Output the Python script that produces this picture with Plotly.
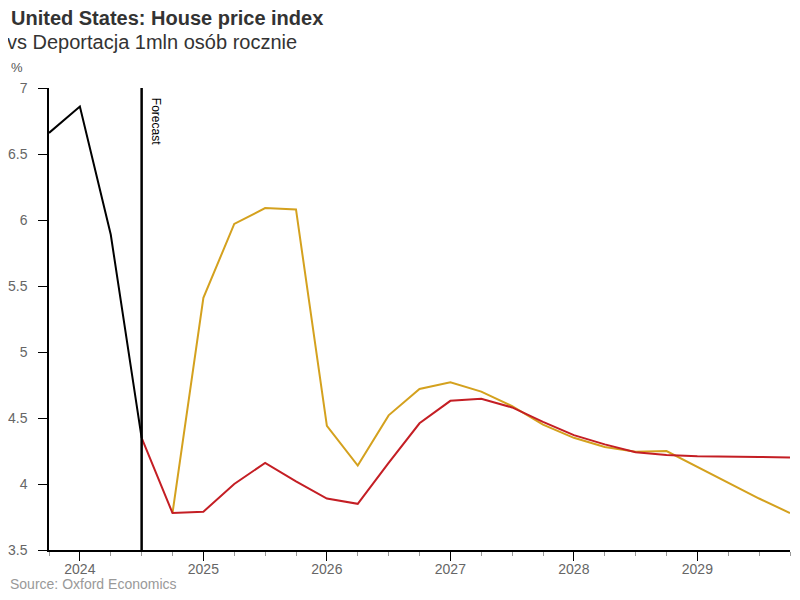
import plotly.graph_objects as go

hist_x = [2023.75, 2024.0, 2024.25, 2024.5]
hist_y = [6.66, 6.86, 5.89, 4.35]

fc_x = [2024.5, 2024.75, 2025.0, 2025.25, 2025.5, 2025.75, 2026.0, 2026.25,
        2026.5, 2026.75, 2027.0, 2027.25, 2027.5, 2027.75, 2028.0, 2028.25,
        2028.5, 2028.75, 2029.0, 2029.25, 2029.5, 2029.75]
base_y = [4.35, 3.78, 3.79, 4.00, 4.16, 4.02, 3.89, 3.85,
          4.16, 4.46, 4.63, 4.646, 4.58, 4.47, 4.37, 4.30,
          4.24, 4.22, 4.21, 4.21, 4.205, 4.20]

dep_x = fc_x[1:]
dep_y = [3.78, 5.41, 5.97, 6.09, 6.08, 4.44, 4.14,
         4.52, 4.72, 4.77, 4.70, 4.59, 4.45, 4.35, 4.28,
         4.245, 4.25, 4.13, 4.005, 3.89, 3.78]

year_ticks = [2024, 2025, 2026, 2027, 2028, 2029]
year_labels = ["2024", "2025", "2026", "2027", "2028", "2029"]
y_ticks = [3.5, 4, 4.5, 5, 5.5, 6, 6.5, 7]
y_labels = ["3.5", "4", "4.5", "5", "5.5", "6", "6.5", "7"]

forecast_x = 2024.5

GOLD = "#D4A11E"
RED = "#C41E24"
FONT = "Liberation Sans, Arial, sans-serif"

W, H = 792, 592
ML, MR, MT, MB = 41, 10, 80, 50
PW, PH = W - ML - MR, H - MT - MB

fig = go.Figure()
fig.add_trace(go.Scatter(x=dep_x, y=dep_y, mode="lines",
                         line=dict(color=GOLD, width=2), hoverinfo="skip"))
fig.add_trace(go.Scatter(x=fc_x, y=base_y, mode="lines",
                         line=dict(color=RED, width=2), hoverinfo="skip"))
fig.add_trace(go.Scatter(x=hist_x, y=hist_y, mode="lines",
                         line=dict(color="#000000", width=2), hoverinfo="skip"))

fig.add_shape(type="line", xref="x", yref="paper", x0=forecast_x, x1=forecast_x,
              y0=0, y1=1, line=dict(color="#000000", width=2.5))


def px_x(p):
    return (p - 8 - ML) / PW


def px_y(p):
    return 1 - (p - 8 - MT) / PH


fig.update_layout(
    width=W, height=H,
    margin=dict(l=ML, r=MR, t=MT, b=MB, autoexpand=False),
    paper_bgcolor="white", plot_bgcolor="white",
    showlegend=False,
    font=dict(family=FONT, color="#666666", size=14),
    title=dict(text="<b>United States: House price index</b>",
               x=(11 - 8) / W, xanchor="left", xref="container",
               y=1 - (18 - 8) / H, yanchor="middle", yref="container",
               font=dict(family=FONT, size=20, color="#333333")),
    annotations=[
        dict(x=forecast_x, y=1, xref="x", yref="paper", text="Forecast",
             textangle=90, showarrow=False, xanchor="left", yanchor="top",
             xshift=6, yshift=-8, font=dict(family=FONT, size=12, color="#000000")),
        dict(x=px_x(5), y=px_y(42), xref="paper", yref="paper", xanchor="left", yanchor="middle",
             text="vs Deportacja 1mln osób rocznie", showarrow=False,
             font=dict(family=FONT, size=20, color="#333333")),
        dict(x=px_x(9), y=px_y(67), xref="paper", yref="paper", xanchor="left", yanchor="middle",
             text="%", showarrow=False,
             font=dict(family=FONT, size=13, color="#555555")),
        dict(x=px_x(8), y=px_y(584), xref="paper", yref="paper", xanchor="left", yanchor="middle",
             text="Source: Oxford Economics", showarrow=False,
             font=dict(family=FONT, size=14, color="#999999")),
    ],
)

fig.update_xaxes(range=[2023.75, 2029.75], tickvals=year_ticks, ticktext=year_labels,
                 automargin=False,
                 showgrid=False, zeroline=False, showline=True, linecolor="#000000", linewidth=1.5,
                 ticks="outside", ticklen=9, tickcolor="#000000", tickwidth=1,
                 ticklabelstandoff=-4,
                 tickfont=dict(family=FONT, size=14, color="#666666"),
                 minor=dict(dtick=0.25, tick0=0, ticks="outside", ticklen=4,
                            tickcolor="#999999", showgrid=False))
fig.update_yaxes(range=[3.5, 7], tickvals=y_ticks, ticktext=y_labels,
                 automargin=False,
                 showgrid=False, zeroline=False, showline=True, linecolor="#000000", linewidth=1.5,
                 ticks="outside", ticklen=9, tickcolor="#000000", tickwidth=1,
                 ticklabelstandoff=8,
                 tickfont=dict(family=FONT, size=14, color="#666666"))

fig.write_html("out.html")
